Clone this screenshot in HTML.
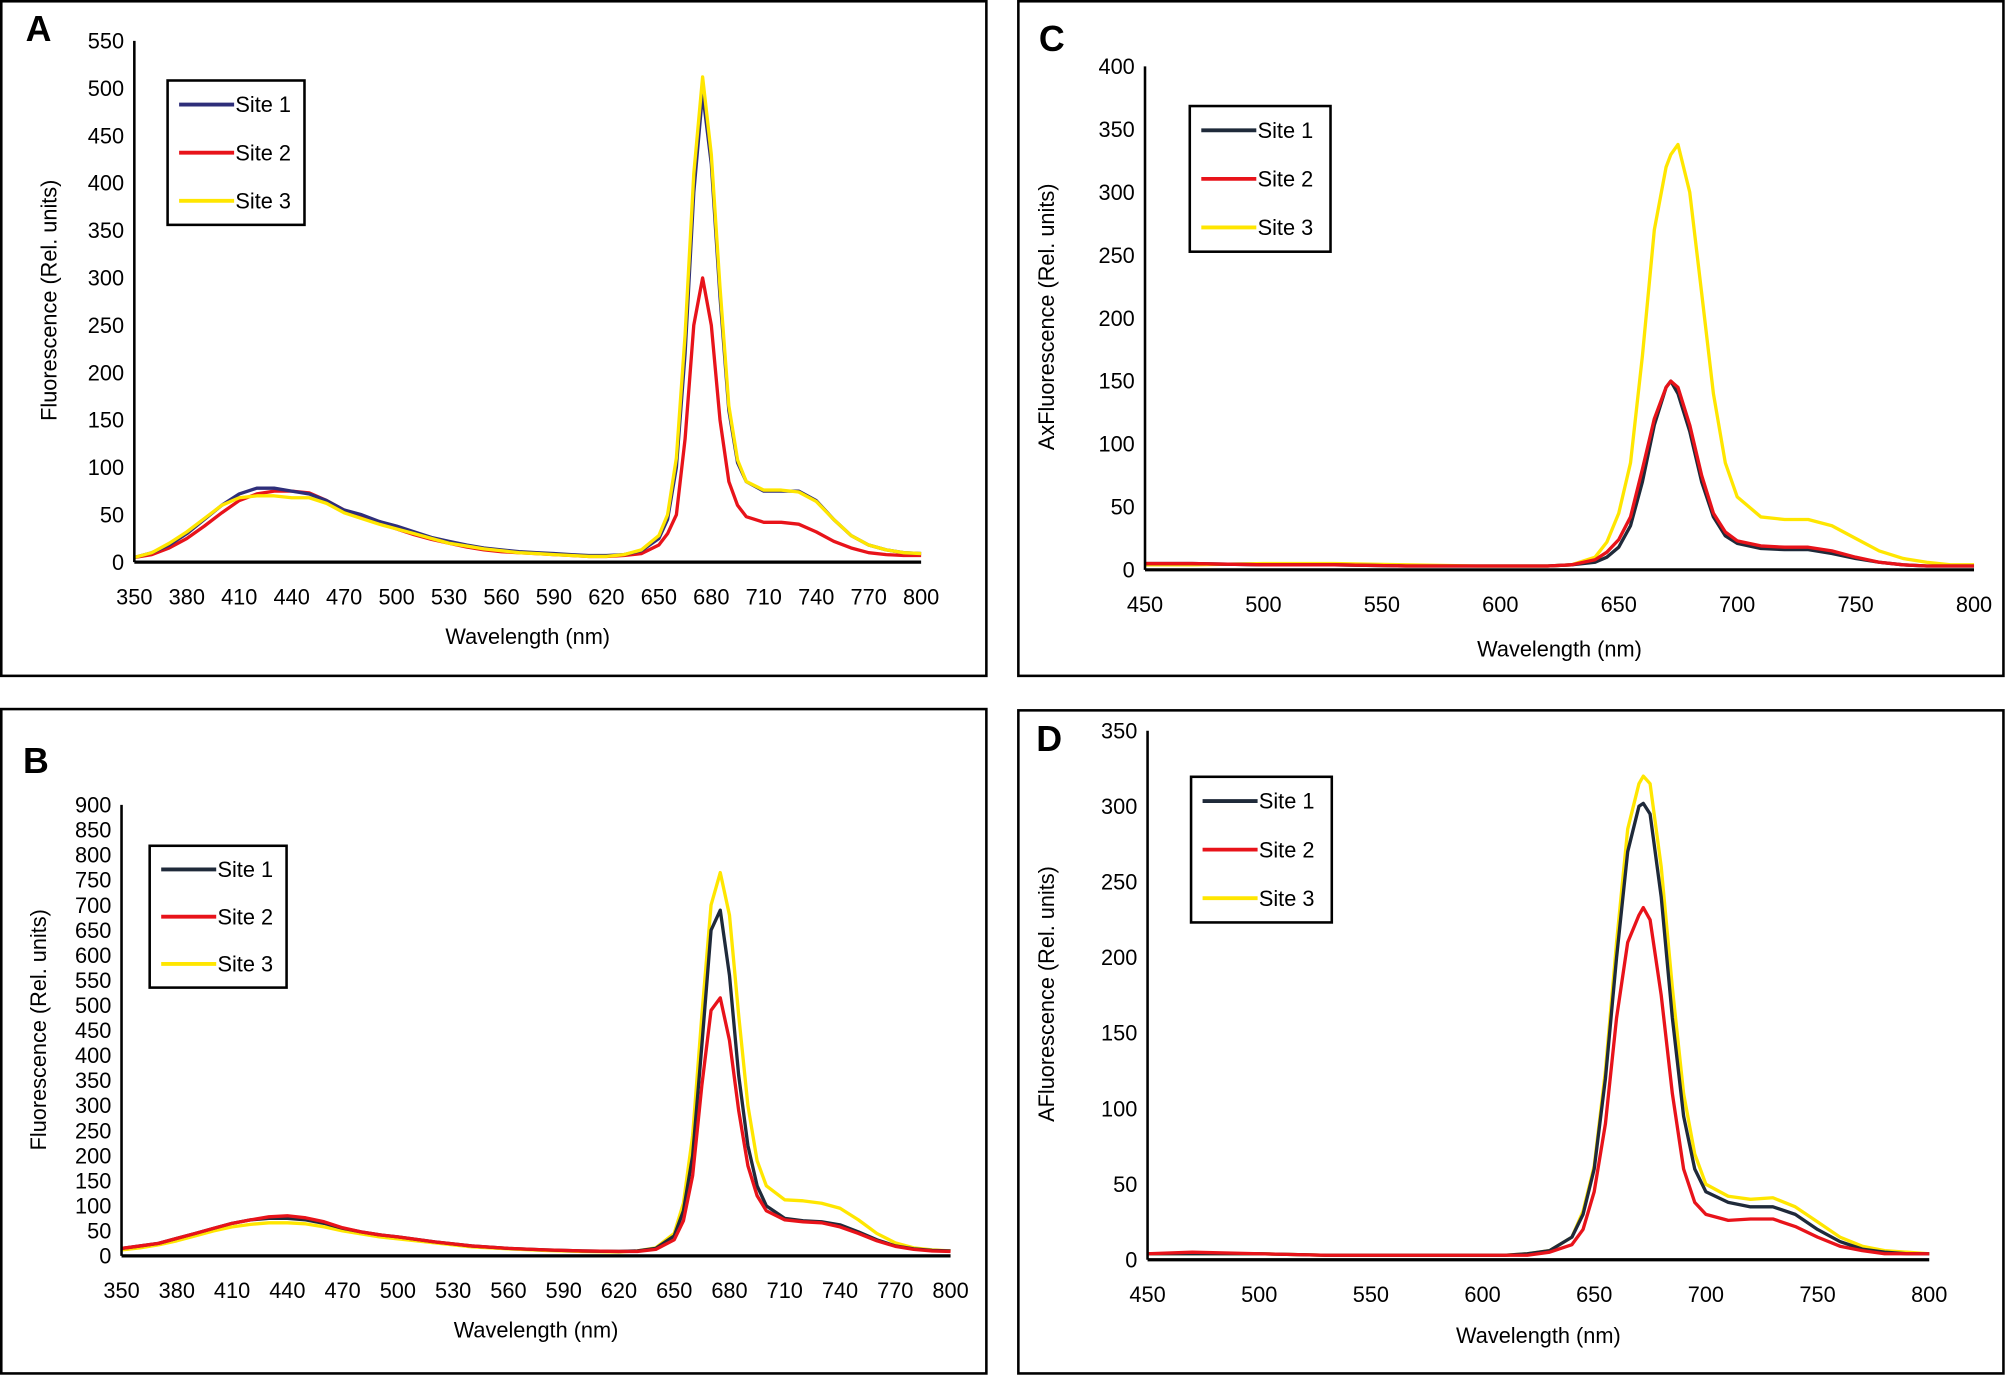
<!DOCTYPE html>
<html><head><meta charset="utf-8">
<style>
html,body{margin:0;padding:0;background:#fff;}
svg{display:block;}
text{font-family:"Liberation Sans Narrow","Liberation Sans",sans-serif;fill:#000;}
.yt{font-family:"Liberation Sans",sans-serif;}
</style></head>
<body>
<svg id="fig" width="2006" height="1376" viewBox="0 0 1568 1077" preserveAspectRatio="none" xmlns="http://www.w3.org/2000/svg"></svg>
<script>
// ---------- Panel A data ----------
const aX1 = [350,360,370,380,390,400,410,420,430,440,450,460,470,480,490,500,510,520,530,540,550,560,570,580,590,600,610,620,630,640,650,655,660,665,670,675,680,685,690,695,700,710,720,730,740,750,760,770,780,790,800];
const aSite1 = [5,10,18,30,45,60,72,78,78,75,72,65,55,50,43,38,32,26,22,18,15,13,11,10,9,8,7,7,8,12,25,45,100,220,390,495,420,280,160,105,85,75,75,75,65,45,28,18,13,10,9];
const aSite2 = [5,8,15,25,38,52,65,72,75,75,73,65,55,48,41,35,29,24,20,16,13,11,10,9,8,7,6,6,7,9,18,30,50,130,250,300,250,150,85,60,48,42,42,40,32,22,15,10,8,7,7];
const aSite3 = [5,10,20,32,46,60,68,70,70,68,68,62,52,46,40,35,30,25,20,17,14,12,10,9,8,7,6,6,8,13,28,50,110,240,410,512,430,290,165,108,85,76,76,74,64,45,28,18,13,10,9];
// ---------- Panel B data ----------
const bX = [350,360,370,380,390,400,410,420,430,440,450,460,470,480,490,500,520,540,560,580,600,620,630,640,650,655,660,665,670,675,680,685,690,695,700,710,720,730,740,750,760,770,780,790,800];
const bSite1 = [15,20,25,35,45,55,65,72,75,75,72,65,55,48,42,38,28,20,15,12,10,9,10,15,40,90,200,420,650,690,560,360,220,140,100,75,70,68,62,48,32,20,14,11,10];
const bSite2 = [15,20,25,35,45,55,65,72,78,80,76,68,56,48,42,38,28,20,15,12,10,9,9,13,32,70,160,340,490,515,430,290,180,120,90,72,68,66,58,45,30,19,13,10,9];
const bSite3 = [12,16,22,30,40,50,58,63,66,66,64,58,50,44,38,34,26,18,14,11,9,8,10,16,45,105,240,480,700,765,680,480,300,190,140,112,110,105,95,72,45,26,16,12,10];
// ---------- Panel C data ----------
const cX = [450,470,500,530,560,590,610,620,630,640,645,650,655,660,665,670,672,675,680,685,690,695,700,710,720,730,740,750,760,770,780,790,800];
const cSite1 = [5,5,4,4,3,3,3,3,4,6,10,18,35,70,115,145,150,140,110,70,42,27,21,17,16,16,13,9,6,4,3,3,3];
const cSite2 = [5,5,4,4,3,3,3,3,4,8,14,24,42,80,120,145,150,145,115,75,45,30,23,19,18,18,15,10,6,4,3,3,3];
const cSite3 = [4,4,5,5,4,3,3,3,4,10,22,45,85,170,270,320,330,338,300,220,140,85,58,42,40,40,35,25,15,9,6,4,4];
// ---------- Panel D data ----------
const dX = [450,470,500,530,560,590,610,620,630,640,645,650,655,660,665,670,672,675,680,685,690,695,700,710,720,730,740,750,760,770,780,790,800];
const dSite1 = [4,4,4,3,3,3,3,4,6,15,30,60,120,200,270,300,302,295,240,160,95,60,45,38,35,35,30,20,12,7,5,4,4];
const dSite2 = [4,5,4,3,3,3,3,3,5,10,20,45,90,160,210,228,233,225,175,110,60,38,30,26,27,27,22,15,9,6,4,4,4];
const dSite3 = [4,4,4,3,3,3,3,4,6,15,32,62,125,210,285,315,320,315,260,180,110,70,50,42,40,41,35,25,15,9,6,5,4];

const ticksA = [350,380,410,440,470,500,530,560,590,620,650,680,710,740,770,800];
const ticksAy = [0,50,100,150,200,250,300,350,400,450,500,550];
const ticksBy = [0,50,100,150,200,250,300,350,400,450,500,550,600,650,700,750,800,850,900];
const ticksC = [450,500,550,600,650,700,750,800];
const ticksCy = [0,50,100,150,200,250,300,350,400];
const ticksDy = [0,50,100,150,200,250,300,350];

const NS = "http://www.w3.org/2000/svg";
const svg = document.getElementById('fig');
function mk(tag, attrs, parent){
  const e = document.createElementNS(NS, tag);
  for (const k in attrs) e.setAttribute(k, attrs[k]);
  (parent||svg).appendChild(e); return e;
}

function panel(cfg){
  const g = mk('g', {});
  
  
  const box = mk('rect', {x:cfg.box[0], y:cfg.box[1], width:cfg.box[2]-cfg.box[0], height:cfg.box[3]-cfg.box[1], fill:'#fff', stroke:'#000', 'stroke-width':2}, g);
  
  
  const sx = v => cfg.x0 + (v - cfg.xmin) / (cfg.xmax - cfg.xmin) * (cfg.x1 - cfg.x0);
  const sy = v => cfg.yb - (v - 0) / cfg.ymax * (cfg.yb - cfg.yt);
  const lt = mk('text', {x:cfg.letter[0], y:cfg.letter[1], 'font-size':28, 'font-weight':'bold', 'class':'yt'}, g);
  lt.textContent = cfg.id;
  
  
  // y ticks labels
  cfg.yticks.forEach(t => {
    const tx = mk('text', {x:cfg.x0 - 8, y:sy(t) + 6, 'font-size':17, 'text-anchor':'end'}, g);
    tx.textContent = t;
    
    
  });
  cfg.xticks.forEach(t => {
    const tx = mk('text', {x:sx(t), y:cfg.yb + 33, 'font-size':17, 'text-anchor':'middle'}, g);
    tx.textContent = t;
    
    
  });
  const xl = mk('text', {x:(cfg.x0+cfg.x1)/2, y:cfg.xlabY, 'font-size':17, 'text-anchor':'middle'}, g);
  xl.textContent = 'Wavelength (nm)';
  
  
  const yl = mk('text', {x:0, y:0, 'font-size':17, 'text-anchor':'middle', 'class':'yt', transform:'translate(' + cfg.ylab[0] + ',' + cfg.ylab[1] + ') rotate(-90)'}, g);
  yl.textContent = cfg.ytitle;
  
  
  // series
  const colors = [cfg.c1, '#e8131a', '#ffe600'];
  const order = [2,0,1];
  if (cfg.order) order.splice(0,3,...cfg.order);
  order.forEach(i => {
    const ys = cfg.series[i];
    const pts = cfg.xs.map((x, j) => sx(x).toFixed(1) + ',' + sy(ys[j]).toFixed(1)).join(' ');
    const pl = mk('polyline', {points:pts, fill:'none', stroke:colors[i], 'stroke-width':2.6, 'stroke-linejoin':'round'}, g);
    
    
  });
  // axes
  const ya = mk('line', {x1:cfg.x0, y1:cfg.yt, x2:cfg.x0, y2:cfg.yb, stroke:'#000', 'stroke-width':2}, g);
  
  
  const xa = mk('line', {x1:cfg.x0, y1:cfg.yb, x2:cfg.x1, y2:cfg.yb, stroke:'#000', 'stroke-width':2.5}, g);
  
  
  // legend
  const L = cfg.legend;
  const lg = mk('g', {}, g);
  
  
  mk('rect', {x:L[0], y:L[1], width:L[2]-L[0], height:L[3]-L[1], fill:'#fff', stroke:'#000', 'stroke-width':2}, lg);
  const step = (L[3]-L[1]) / 3;
  ['Site 1','Site 2','Site 3'].forEach((s, i) => {
    const yy = L[1] + step*(i+0.5);
    const ent = mk('g', {}, lg);
    
    
    mk('line', {x1:L[0]+9, y1:yy, x2:L[0]+52, y2:yy, stroke:colors[i], 'stroke-width':3}, ent);
    const t = mk('text', {x:L[0]+53, y:yy+6, 'font-size':17}, ent);
    t.textContent = s;
  });
}

panel({id:'A', box:[1,1,771,529], x0:105, x1:720, xmin:350, xmax:800, yt:32, yb:440, ymax:550,
  xs:aX1, series:[aSite1,aSite2,aSite3], c1:'#2e2e7a', xticks:ticksA, yticks:ticksAy,
  xlabY:504, ylab:[44,235], ytitle:'Fluorescence (Rel. units)', legend:[131,63,238,176], letter:[20,32], order:[1,0,2]});
panel({id:'B', box:[1,555,771,1075], x0:95, x1:743, xmin:350, xmax:800, yt:630, yb:983, ymax:900,
  xs:bX, series:[bSite1,bSite2,bSite3], c1:'#1f2a3a', xticks:ticksA, yticks:ticksBy,
  xlabY:1047, ylab:[36,806], ytitle:'Fluorescence (Rel. units)', legend:[117,662,224,773], letter:[18,605]});
panel({id:'C', box:[796,1,1566,529], x0:895, x1:1543, xmin:450, xmax:800, yt:52, yb:446, ymax:400,
  xs:cX, series:[cSite1,cSite2,cSite3], c1:'#1f2a3a', xticks:ticksC, yticks:ticksCy,
  xlabY:514, ylab:[824,248], ytitle:'AxFluorescence (Rel. units)', legend:[930,83,1040,197], letter:[812,40]});
panel({id:'D', box:[796,556,1566,1075], x0:897, x1:1508, xmin:450, xmax:800, yt:572, yb:986, ymax:350,
  xs:dX, series:[dSite1,dSite2,dSite3], c1:'#1f2a3a', xticks:ticksC, yticks:ticksDy,
  xlabY:1051, ylab:[824,778], ytitle:'AFluorescence (Rel. units)', legend:[931,608,1041,722], letter:[810,588]});
</script>
</body></html>
